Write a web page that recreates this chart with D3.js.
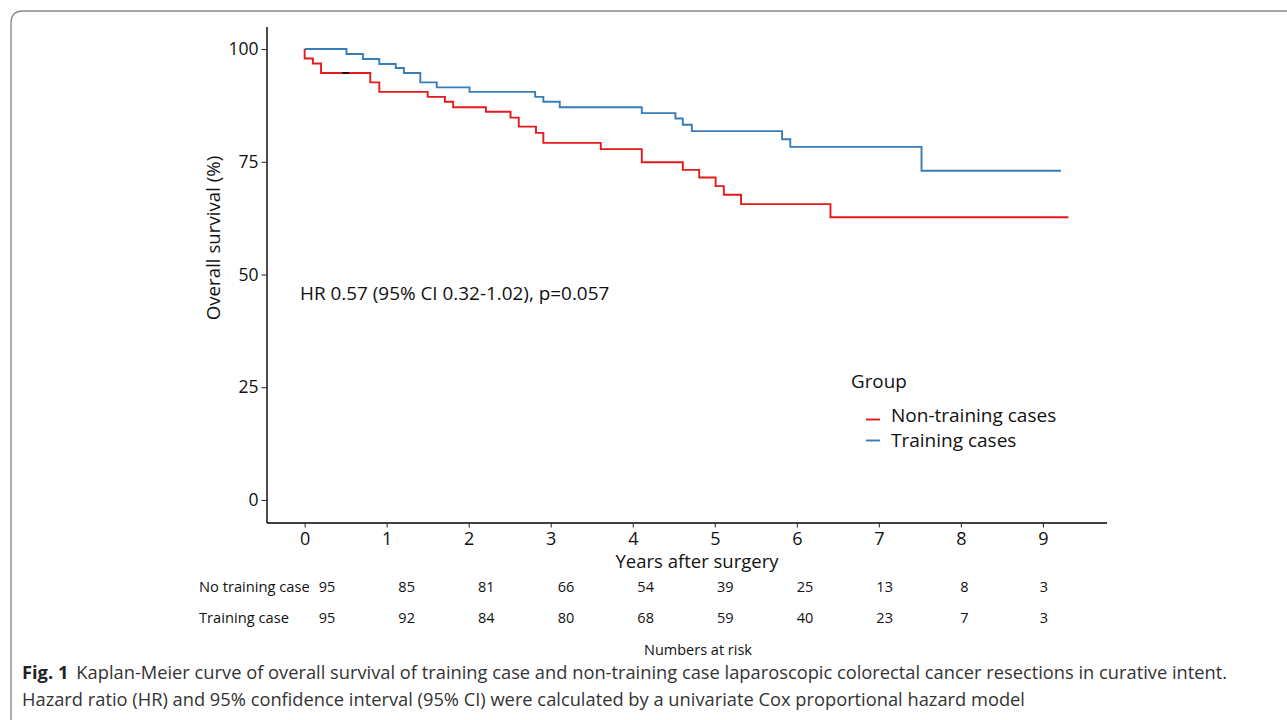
<!DOCTYPE html>
<html>
<head>
<meta charset="utf-8">
<script src="https://cdn.jsdelivr.net/npm/d3@7"></script>
<style>
  body { margin: 0; background: #fff; }
  svg text { font-family: "Open Sans", "Noto Sans", sans-serif; }
</style>
</head>
<body>
<svg id="chart" width="1287" height="720"></svg>
<script>
'use strict'

// survival steps (time in years, survival in %)
const nonTrainingTimes = [0, 0.10, 0.20, 0.80, 0.91, 1.50, 1.71, 1.81, 2.21, 2.51, 2.61, 2.82, 2.91, 3.61, 4.11, 4.61, 4.81, 5.01, 5.11, 5.32, 6.41]
const nonTrainingSurv  = [97.9, 96.8, 94.7, 92.6, 90.5, 89.4, 88.3, 87.1, 86.1, 84.8, 82.8, 81.4, 79.2, 77.8, 74.9, 73.2, 71.5, 69.6, 67.7, 65.6, 62.7]
const nonTrainingEnd = 9.31
const nonTrainingCensor = [0.5]

const trainingTimes = [0.51, 0.71, 0.91, 1.11, 1.21, 1.41, 1.61, 2.01, 2.81, 2.91, 3.11, 4.11, 4.52, 4.61, 4.72, 5.82, 5.92, 7.52]
const trainingSurv  = [98.9, 97.8, 96.7, 95.8, 94.7, 92.6, 91.5, 90.5, 89.4, 88.3, 87.1, 85.8, 84.6, 83.2, 81.8, 80.0, 78.3, 73.0]
const trainingEnd = 9.22

const xTicks = [0, 1, 2, 3, 4, 5, 6, 7, 8, 9]
const yTicks = [0, 25, 50, 75, 100]

const riskLabels = ['No training case', 'Training case']
const riskNoTraining = [95, 85, 81, 66, 54, 39, 25, 13, 8, 3]
const riskTraining   = [95, 92, 84, 80, 68, 59, 40, 23, 7, 3]

const groupNames = ['Non-training cases', 'Training cases']
const groupColors = ['#e41a1c', '#377eb8']

const svg = d3.select('#chart')

function buildSteps(times, surv, end) {
	const pts = [{t: 0, s: 100}]
	for (let i = 0; i < times.length; ++i)
		pts.push({t: times[i], s: surv[i]})
	pts.push({t: end, s: surv[surv.length - 1]})
	return pts
}

// frame of the figure box
svg.append('path')
	.attr('d', 'M1300,11 L23,11 Q11,11 11,23 L11,730')
	.attr('fill', 'none')
	.attr('stroke', '#8a8a8a')
	.attr('stroke-width', 1.4)

const x = d3.scaleLinear().domain([-0.465, 9.775]).range([266.5, 1106.5])
const y = d3.scaleLinear().domain([-5, 105]).range([522.5, 26.5])

const xAxis = d3.axisBottom(x).tickValues(xTicks).tickSize(5).tickSizeOuter(0).tickPadding(4)
const yAxis = d3.axisLeft(y).tickValues(yTicks).tickSize(5).tickSizeOuter(0).tickPadding(3)

const gx = svg.append('g')
	.attr('transform', 'translate(0,' + y(-5) + ')')
	.call(xAxis)
gx.select('.domain').attr('stroke', '#000').attr('stroke-width', 1.4)
gx.selectAll('.tick line').attr('stroke', '#333').attr('stroke-width', 1.1)
gx.selectAll('text').style('font-size', '18px').attr('fill', '#111').attr('dy', '0.75em')

const gy = svg.append('g')
	.attr('transform', 'translate(' + x(-0.465) + ',0)')
	.call(yAxis)
gy.select('.domain').attr('stroke', '#000').attr('stroke-width', 1.4)
gy.selectAll('.tick line').attr('stroke', '#333').attr('stroke-width', 1.1)
gy.selectAll('text').style('font-size', '17.5px').attr('fill', '#111')

svg.append('text')
	.attr('x', 697).attr('y', 568)
	.attr('text-anchor', 'middle')
	.style('font-size', '18.5px')
	.attr('fill', '#111')
	.text('Years after surgery')

svg.append('text')
	.attr('transform', 'translate(220,238) rotate(-90)')
	.attr('text-anchor', 'middle')
	.style('font-size', '18.7px')
	.attr('fill', '#111')
	.text('Overall survival (%)')

// curves
const line = d3.line()
	.x(d => x(d.t))
	.y(d => y(d.s))
	.curve(d3.curveStepAfter)

const series = [
	buildSteps(nonTrainingTimes, nonTrainingSurv, nonTrainingEnd),
	buildSteps(trainingTimes, trainingSurv, trainingEnd)
]

svg.selectAll('.km')
	.data([1, 0])
	.enter()
	.append('path')
	.attr('class', 'km')
	.attr('d', i => line(series[i]))
	.attr('fill', 'none')
	.attr('stroke', i => groupColors[i])
	.attr('stroke-width', 1.9)

// censor mark
svg.selectAll('.censor')
	.data(nonTrainingCensor)
	.enter()
	.append('line')
	.attr('class', 'censor')
	.attr('x1', d => x(d) - 3.5)
	.attr('x2', d => x(d) + 3.5)
	.attr('y1', y(94.7))
	.attr('y2', y(94.7))
	.attr('stroke', '#000')
	.attr('stroke-width', 1.6)

svg.append('text')
	.attr('x', 300).attr('y', 300)
	.style('font-size', '18.9px')
	.attr('fill', '#111')
	.text('HR 0.57 (95% CI 0.32-1.02), p=0.057')

// legend
svg.append('text')
	.attr('x', 851).attr('y', 388)
	.style('font-size', '18.8px')
	.attr('fill', '#111')
	.text('Group')

const legendY = [419.5, 440.5]
const legendTextY = [422, 447]
groupNames.forEach((name, i) => {
	svg.append('line')
		.attr('x1', 866).attr('x2', 880)
		.attr('y1', legendY[i]).attr('y2', legendY[i])
		.attr('stroke', groupColors[i])
		.attr('stroke-width', 1.9)
	svg.append('text')
		.attr('x', 891).attr('y', legendTextY[i])
		.style('font-size', '19px')
		.attr('fill', '#111')
		.text(name)
})

// numbers at risk table
const xr = d3.scaleLinear().domain([0, 9]).range([327, 1044])
const riskRows = [riskNoTraining, riskTraining]
const rowY = [587, 618]

riskLabels.forEach((lab, r) => {
	svg.append('text')
		.attr('x', 199).attr('y', rowY[r])
		.attr('dy', '0.35em')
		.style('font-size', '14.7px')
		.attr('fill', '#111')
		.text(lab)
	svg.selectAll('.risk' + r)
		.data(riskRows[r])
		.enter()
		.append('text')
		.attr('class', 'risk' + r)
		.attr('x', (d, i) => xr(xTicks[i]))
		.attr('y', rowY[r])
		.attr('dy', '0.35em')
		.attr('text-anchor', 'middle')
		.style('font-size', '14.5px')
		.attr('fill', '#111')
		.text(d => d)
})

svg.append('text')
	.attr('x', 698).attr('y', 650)
	.attr('dy', '0.35em')
	.attr('text-anchor', 'middle')
	.style('font-size', '14.5px')
	.attr('fill', '#111')
	.text('Numbers at risk')

// caption
const cap1 = svg.append('text')
	.attr('x', 22).attr('y', 679)
	.style('font-size', '18.3px')
	.attr('fill', '#333')
cap1.append('tspan').style('font-weight', 'bold').attr('fill', '#222').text('Fig. 1')
cap1.append('tspan').attr('dx', 8).text('Kaplan-Meier curve of overall survival of training case and non-training case laparoscopic colorectal cancer resections in curative intent.')

svg.append('text')
	.attr('x', 22).attr('y', 706)
	.style('font-size', '18.3px')
	.attr('fill', '#333')
	.text('Hazard ratio (HR) and 95% confidence interval (95% CI) were calculated by a univariate Cox proportional hazard model')
</script>
</body>
</html>
